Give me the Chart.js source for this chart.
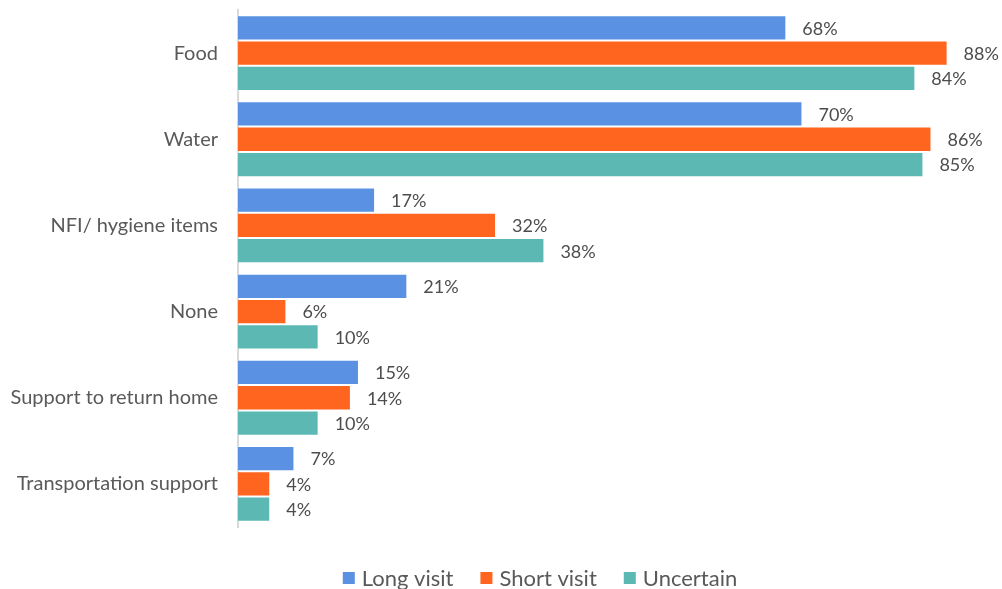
<!DOCTYPE html>
<html>
<head>
<meta charset="utf-8">
<script src="https://cdn.jsdelivr.net/npm/chart.js@4/dist/chart.umd.min.js"></script>
<style>
  html, body { margin: 0; padding: 0; background: #fff; }
  #wrap { width: 1002px; height: 589px; }
</style>
</head>
<body>
<div id="wrap"><canvas id="graficoNecessidades"></canvas></div>
<script>
var categorias = ['Food', 'Water', 'NFI/ hygiene items', 'None', 'Support to return home', 'Transportation support'];
var visitaLonga = [68, 70, 17, 21, 15, 7];
var visitaCurta = [88, 86, 32, 6, 14, 4];
var incerto = [84, 85, 38, 10, 10, 4];

var fonte = 'Lato, "Open Sans", sans-serif';

// escreve o valor no fim de cada barra
var rotulosValor = {
	id: 'rotulosValor',
	afterDatasetsDraw: function(chart) {
		var ctx = chart.ctx;
		ctx.save();
		ctx.font = '18px ' + fonte;
		ctx.fillStyle = '#4d4d4d';
		ctx.textAlign = 'left';
		ctx.textBaseline = 'middle';
		chart.data.datasets.forEach(function(ds, i) {
			chart.getDatasetMeta(i).data.forEach(function(barra, j) {
				ctx.fillText(ds.data[j] + '%', barra.x + 16, barra.y + 1);
			});
		});
		ctx.restore();
	}
};

// legenda desenhada embaixo, colada na borda do canvas
var legendaRodape = {
	id: 'legendaRodape',
	afterDraw: function(chart) {
		var ctx = chart.ctx;
		var caixa = 12, folga = 7, espaco = 27;
		var centroX = 540, centroY = 578;
		ctx.save();
		ctx.font = '22px ' + fonte;
		ctx.textBaseline = 'middle';
		ctx.textAlign = 'left';
		var larguras = chart.data.datasets.map(function(ds) {
			return caixa + folga + ctx.measureText(ds.label).width;
		});
		var total = larguras.reduce(function(a, b) { return a + b; }, 0) + espaco * (larguras.length - 1);
		var x = centroX - total / 2;
		chart.data.datasets.forEach(function(ds, i) {
			ctx.fillStyle = ds.backgroundColor;
			ctx.fillRect(x, centroY - caixa / 2, caixa, caixa);
			ctx.fillStyle = '#595959';
			ctx.fillText(ds.label, x + caixa + folga, centroY + 1);
			x += larguras[i] + espaco;
		});
		ctx.restore();
	}
};

var ctx = document.getElementById('graficoNecessidades').getContext('2d');
var grafico = new Chart(ctx, {
	type: 'bar',
	data: {
		labels: categorias,
		datasets: [{
			label: 'Long visit',
			backgroundColor: '#5a91e3',
			borderColor: 'rgba(255,255,255,0.35)',
			borderWidth: 1,
			data: visitaLonga
		}, {
			label: 'Short visit',
			backgroundColor: '#ff651e',
			borderColor: 'rgba(255,255,255,0.35)',
			borderWidth: 1,
			data: visitaCurta
		}, {
			label: 'Uncertain',
			backgroundColor: '#5bb8b3',
			borderColor: 'rgba(255,255,255,0.35)',
			borderWidth: 1,
			data: incerto
		}]
	},
	options: {
		indexAxis: 'y',
		responsive: true,
		maintainAspectRatio: false,
		animation: false,
		datasets: {
			bar: { categoryPercentage: 0.88, barPercentage: 1 }
		},
		layout: {
			padding: { top: 10, right: 6, left: 0, bottom: 62 }
		},
		scales: {
			x: {
				display: false,
				min: 0,
				max: 94
			},
			y: {
				grid: { display: false },
				border: { display: true, color: '#d9d9d9', width: 2 },
				ticks: {
					color: '#595959',
					padding: 12,
					font: { family: fonte, size: 20 }
				},
				afterFit: function(escala) {
					escala.width = 238;
					escala.paddingTop = 0;
					escala.paddingBottom = 0;
				}
			}
		},
		plugins: {
			legend: { display: false },
			tooltip: { enabled: false }
		}
	},
	plugins: [rotulosValor, legendaRodape]
});
</script>
</body>
</html>
